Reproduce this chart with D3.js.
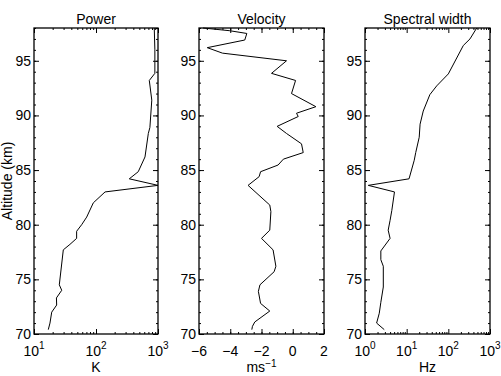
<!DOCTYPE html>
<html>
<head>
<meta charset="utf-8">
<script src="https://cdn.jsdelivr.net/npm/d3@7"></script>
<style>
  body { margin: 0; background: #fff; }
  svg { font-family: "Liberation Sans", Arial, sans-serif; }
</style>
</head>
<body>
<svg id="chart" width="501" height="376"></svg>
<script>
// ---- data ----
var powerAlt = [70.4, 71.0, 72.0, 72.65, 73.3, 74.0, 74.5, 77.7, 78.2, 78.75, 79.4, 80.0, 80.7, 82.0, 83.0, 83.6, 84.2, 84.85, 86.2, 88.35, 88.9, 91.4, 93.2, 93.85, 96.0, 98.0];
var powerVal = [17, 18.1, 19.3, 23.2, 23, 28, 25.6, 29.7, 38, 48.7, 48.7, 58.7, 70.8, 90.5, 140, 1000, 344, 480, 617, 698, 740, 794, 724, 890, 890, 870];

var velAlt = [70.4, 70.7, 71.1, 72.1, 72.8, 73.9, 74.5, 75.7, 76.2, 77.7, 78.75, 79.5, 81.2, 81.8, 83.6, 84.4, 84.85, 85.46, 86.0, 86.6, 87.4, 88.35, 89.0, 89.9, 90.2, 90.8, 92.0, 93.2, 93.85, 95.0, 95.7, 96.2, 96.9, 97.5, 97.75, 98.0];
var velVal = [-2.62, -2.58, -2.43, -1.47, -2.06, -2.2, -2.1, -1.19, -1.08, -1.26, -2.0, -1.47, -1.4, -1.47, -2.86, -2.15, -2.06, -0.94, -0.6, 0.67, 0.56, -0.4, -1.0, 0.35, 0.24, 1.48, -0.08, 0.18, -1.36, -0.4, -4.5, -5.47, -3.07, -2.94, -4.03, -5.74];

var widthAlt = [70.4, 71.0, 71.9, 72.9, 74.3, 76.2, 76.8, 77.6, 78.75, 79.5, 80.4, 81.3, 83.0, 83.6, 84.2, 85.9, 86.6, 88.0, 89.2, 90.4, 91.9, 92.7, 93.8, 96.4, 97.0, 98.0];
var widthVal = [2.9, 1.9, 2.2, 2.4, 2.75, 2.75, 2.4, 2.4, 4.0, 3.6, 4.0, 4.4, 5.1, 1.2, 11.4, 15.2, 16.5, 20, 21, 25, 36, 52.5, 100, 229, 331, 480];

var altTicks = [70, 75, 80, 85, 90, 95];
var velTicks = [-6, -4, -2, 0, 2];

var svg = d3.select('#chart');
var yTop = 28, yBottom = 334;
var fontSize = 14;

var y = d3.scaleLinear().domain([70, 98]).range([yBottom, yTop]);

// superscript labels like 10^2 or ms^-1
function supLabel(sel, base, exp, rise) {
  sel.text(null);
  sel.append('tspan').text(base);
  sel.append('tspan').attr('dy', -rise).attr('font-size', 10).text(exp);
}

function logMinor(domain) {
  var out = [];
  for (var e = Math.log10(domain[0]); e < Math.log10(domain[1]); e++) {
    for (var k = 2; k <= 9; k++) out.push(k * Math.pow(10, e));
  }
  return out;
}

function panel(opt) {
  var x = opt.x;
  var g = svg.append('g');
  var h = yBottom - yTop;
  var left = opt.range[0], right = opt.range[1];

  // y ticks, left and mirrored on the right
  var yMinor = d3.range(70, 99, 1);
  g.append('g').attr('transform', 'translate(' + left + ',0)')
    .call(d3.axisRight(y).tickValues(yMinor).tickSize(2).tickFormat(''));
  g.append('g').attr('transform', 'translate(' + left + ',0)')
    .call(d3.axisRight(y).tickValues(altTicks).tickSize(5).tickFormat(''));
  g.append('g').attr('transform', 'translate(' + right + ',0)')
    .call(d3.axisLeft(y).tickValues(yMinor).tickSize(2).tickFormat(''));
  g.append('g').attr('transform', 'translate(' + right + ',0)')
    .call(d3.axisLeft(y).tickValues(altTicks).tickSize(5).tickFormat(''));

  // y labels
  g.selectAll('text.ylab').data(altTicks).enter().append('text')
    .attr('class', 'ylab')
    .attr('x', left - 3).attr('y', function(d) { return y(d) + 5; })
    .attr('text-anchor', 'end').attr('font-size', fontSize)
    .text(function(d) { return d; });

  // x ticks bottom and top
  g.append('g').attr('transform', 'translate(0,' + yBottom + ')')
    .call(d3.axisTop(x).tickValues(opt.minor).tickSize(2).tickFormat(''));
  g.append('g').attr('transform', 'translate(0,' + yBottom + ')')
    .call(d3.axisTop(x).tickValues(opt.major).tickSize(5).tickFormat(''));
  g.append('g').attr('transform', 'translate(0,' + yTop + ')')
    .call(d3.axisBottom(x).tickValues(opt.minor).tickSize(2).tickFormat(''));
  g.append('g').attr('transform', 'translate(0,' + yTop + ')')
    .call(d3.axisBottom(x).tickValues(opt.major).tickSize(5).tickFormat(''));

  g.selectAll('.domain').remove();
  g.selectAll('.tick line').attr('stroke', '#000').attr('stroke-width', 1);

  // x labels
  g.selectAll('text.xlab').data(opt.major).enter().append('text')
    .attr('class', 'xlab')
    .attr('x', function(d) { return x(d); }).attr('y', yBottom + 22)
    .attr('text-anchor', 'middle').attr('font-size', fontSize)
    .each(function(d) {
      if (opt.log) supLabel(d3.select(this), '10', Math.round(Math.log10(d)), 7);
      else d3.select(this).text(d < 0 ? '\u2212' + Math.abs(d) : d);
    });

  // frame
  g.append('rect').attr('x', left).attr('y', yTop)
    .attr('width', right - left).attr('height', h)
    .attr('fill', 'none').attr('stroke', '#000').attr('stroke-width', 1.3);

  // profile line
  g.append('path')
    .datum(d3.range(opt.alt.length))
    .attr('fill', 'none').attr('stroke', '#000').attr('stroke-width', 1)
    .attr('d', d3.line()
      .x(function(i) { return x(opt.val[i]); })
      .y(function(i) { return y(opt.alt[i]); }));

  // title
  g.append('text').attr('x', (left + right) / 2).attr('y', 24)
    .attr('text-anchor', 'middle').attr('font-size', fontSize).text(opt.title);

  // unit label
  var u = g.append('text').attr('x', (left + right) / 2).attr('y', 372)
    .attr('text-anchor', 'middle').attr('font-size', fontSize);
  if (opt.unitExp) supLabel(u, opt.unit, opt.unitExp, 5);
  else u.text(opt.unit);
}

var xPow = d3.scaleLog().domain([10, 1000]).range([34, 158]);
panel({ x: xPow, range: [34, 158], log: true, major: [10, 100, 1000], minor: logMinor([10, 1000]),
  alt: powerAlt, val: powerVal, title: 'Power', unit: 'K' });

var xVel = d3.scaleLinear().domain([-6, 2]).range([199, 324]);
panel({ x: xVel, range: [199, 324], log: false, major: velTicks, minor: d3.range(-6, 2.01, 0.5),
  alt: velAlt, val: velVal, title: 'Velocity', unit: 'ms', unitExp: '\u22121' });

var xWid = d3.scaleLog().domain([1, 1000]).range([365, 490]);
panel({ x: xWid, range: [365, 490], log: true, major: [1, 10, 100, 1000], minor: logMinor([1, 1000]),
  alt: widthAlt, val: widthVal, title: 'Spectral width', unit: 'Hz' });

// shared y axis title
svg.append('text')
  .attr('transform', 'translate(12,' + (yTop + yBottom) / 2 + ') rotate(-90)')
  .attr('text-anchor', 'middle').attr('font-size', fontSize)
  .text('Altitude (km)');
</script>
</body>
</html>
